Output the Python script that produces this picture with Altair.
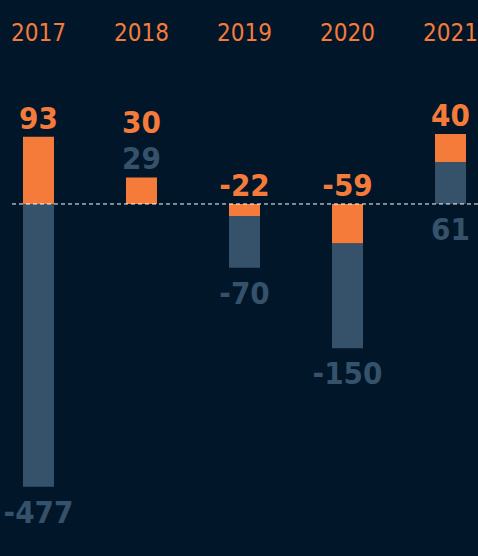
import altair as alt
import pandas as pd

# ---- data ----
years = ["2017", "2018", "2019", "2020", "2021"]
orange_bar = [96, 38, -17, -56, 40]      # orange segment length (chart units)
grey_bar = [-404, 0, -74, -150, 60]      # grey segment length (chart units)
orange_label = [93, 30, -22, -59, 40]    # printed orange figures
grey_label = [-477, 29, -70, -150, 61]   # printed grey figures

BG = "#011629"
ORANGE = "#F57B3B"
GREY = "#35526A"
FONT = "DejaVu Sans Condensed, Roboto, sans-serif"

# ---- build segments: grey always below orange in y ----
bars = []
labels = []
for y, o, g, ol, gl in zip(years, orange_bar, grey_bar, orange_label, grey_label):
    lo = min(0, g) + min(0, o)
    g_hi = lo + abs(g)
    top = g_hi + abs(o)
    if g != 0:
        bars.append({"year": y, "s": "grey", "lo": lo, "hi": g_hi})
    bars.append({"year": y, "s": "orange", "lo": g_hi, "hi": top})
    pos_top = max(top, 0)
    if gl < 0:
        labels.append({"year": y, "t": str(gl), "s": "grey", "a": lo, "p": "below"})
        grey_above = False
    elif g > 0:
        labels.append({"year": y, "t": str(gl), "s": "grey", "a": 0, "p": "below"})
        grey_above = False
    else:
        labels.append({"year": y, "t": str(gl), "s": "grey", "a": pos_top, "p": "above"})
        grey_above = True
    labels.append({"year": y, "t": str(ol), "s": "orange", "a": pos_top,
                   "p": "above2" if grey_above else "above"})

bars_df = pd.DataFrame(bars)
lab_df = pd.DataFrame(labels)

color_scale = alt.Scale(domain=["orange", "grey"], range=[ORANGE, GREY])

x_enc = alt.X(
    "year:N",
    sort=years,
    scale=alt.Scale(range=[0, 489], paddingInner=0.699, paddingOuter=0.223),
    axis=alt.Axis(
        orient="top", title=None, domain=False, ticks=False, tickSize=0,
        labelColor=ORANGE, labelFont=FONT, labelFontSize=24, labelAngle=0,
        labelBaseline="alphabetic", labelPadding=20, grid=False,
    ),
)
y_scale = alt.Scale(domain=[-502.9, 205.7], nice=False, zero=False)

bar_layer = alt.Chart(bars_df).mark_bar(opacity=1).encode(
    x=x_enc,
    y=alt.Y("lo:Q", scale=y_scale, axis=None),
    y2="hi:Q",
    color=alt.Color("s:N", scale=color_scale, legend=None),
)

zero_rule = alt.Chart(pd.DataFrame({"z": [0]})).mark_rule(
    color="#FFFFFF", strokeWidth=1, strokeDash=[4, 3]
).encode(y=alt.Y("z:Q", scale=y_scale, axis=None), x=alt.value(12), x2=alt.value(478))


def text_layer(place, dy):
    return alt.Chart(lab_df).transform_filter(
        alt.datum.p == place
    ).mark_text(
        font=FONT, fontSize=31, fontWeight="bold", baseline="alphabetic",
        align="center", dy=dy,
    ).encode(
        x=alt.X("year:N", sort=years),
        y=alt.Y("a:Q", scale=y_scale, axis=None),
        text="t:N",
        color=alt.Color("s:N", scale=color_scale, legend=None),
    )


chart = alt.layer(
    bar_layer,
    zero_rule,
    text_layer("above", -8),
    text_layer("above2", -44),
    text_layer("below", 36),
).properties(
    width=478, height=496,
    padding={"top": 60, "left": 0, "right": 0, "bottom": 0},
    autosize="none",
    background=BG,
).configure_view(stroke=None)

chart.save("out.html", embed_options={"renderer": "svg", "actions": False})
